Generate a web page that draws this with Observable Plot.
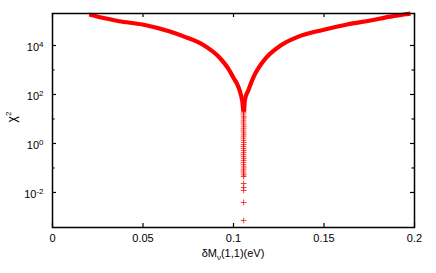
<!DOCTYPE html>
<html><head><meta charset="utf-8">
<script src="https://cdn.jsdelivr.net/npm/d3@7"></script>
<script src="https://cdn.jsdelivr.net/npm/@observablehq/plot@0.6"></script>
<style>html,body{margin:0;padding:0;background:#fff}svg{display:block}</style>
</head><body><div id="chart"></div>
<script>
// Left arm of the chi^2 curve
const leftX    = [0.0203, 0.0276, 0.0368, 0.0497, 0.0644, 0.0735, 0.0829, 0.0921, 0.0976, 0.1002, 0.1022, 0.1042, 0.1051, 0.1055];
const leftChi2 = [1.84e5, 1.35e5, 9.8e4,  7.2e4,  3.8e4,  2.2e4,  1.1e4,  3.3e3,  1000,   450,    250,    90,     40,     20];
// Right arm
const rightX    = [0.1057, 0.1063, 0.1082, 0.1110, 0.1167, 0.1260, 0.1352, 0.1499, 0.1628, 0.1757, 0.1867, 0.1941, 0.1978];
const rightChi2 = [20,     60,     150,    500,    2400,   1.0e4,  2.2e4,  4.4e4,  7.2e4,  1.05e5, 1.5e5,  1.84e5, 2.0e5];
// Points stacked at the minimum
const coreX    = [0.1056, 0.1055, 0.1056, 0.1057, 0.1056, 0.1055, 0.1056, 0.1057, 0.1056, 0.1055, 0.1056, 0.1057, 0.1056, 0.1055, 0.1056, 0.1057, 0.1056, 0.1055, 0.1056, 0.1057, 0.1056, 0.1055, 0.1056, 0.1057, 0.1056, 0.1055, 0.1056, 0.1057, 0.1056, 0.1055, 0.1056, 0.1057, 0.1056, 0.1055, 0.1056, 0.1057, 0.1056, 0.1056, 0.1056, 0.1056, 0.1056, 0.1056];
const coreChi2 = [40,     34,     28,     23,     19,     16,     13,     11,     9,      7.5,    6.2,    5.1,    4.2,    3.5,    2.9,    2.4,    2.0,    1.65,   1.35,   1.1,    0.9,    0.75,   0.62,   0.51,   0.42,   0.35,   0.29,   0.24,   0.2,    0.165,  0.135,  0.11,   0.09,   0.075,  0.062,  0.052,  0.045,  0.0233, 0.016,  0.0121, 0.0039, 0.00072];

const xTicks = [0, 0.05, 0.1, 0.15, 0.2];
const xTickLabels = ["0", "0.05", "0.1", "0.15", "0.2"];
const yTicks = [1e-2, 1, 1e2, 1e4];
const yTickExp = ["-2", "0", "2", "4"];
const yMinor = [1e-1, 1e1, 1e3];
const xLabelParts = ["δM", "ν", "(1,1)(eV)"];
const yLabelParts = ["χ", "2"];

const W = 436, H = 273, mL = 52, mR = 22, mT = 13, mB = 46;
const pw = W - mL - mR, ph = H - mT - mB;

const arms = [
  ...leftX.map((x, i) => ({x, y: leftChi2[i], s: "L"})),
  ...rightX.map((x, i) => ({x, y: rightChi2[i], s: "R"}))
];
const core = coreChi2.map((y, i) => ({x: coreX[i], y}));

const tickStyle = {stroke: "#000", strokeWidth: 1.2};
const plot = Plot.plot({
  width: W, height: H,
  marginLeft: mL, marginRight: mR, marginTop: mT, marginBottom: mB,
  style: {fontFamily: "'Liberation Sans', Arial, Helvetica, sans-serif", fontSize: "11px", color: "#000", background: "#fff"},
  x: {domain: [0, 0.2]},
  y: {type: "log", domain: [Math.pow(10, -3.43), Math.pow(10, 5.306)]},
  marks: [
    Plot.line(arms, {x: "x", y: "y", z: "s", stroke: "#ff0000", strokeWidth: 4.2, curve: "monotone-x", strokeLinecap: "butt"}),
    Plot.dot(core, {x: "x", y: "y", symbol: "plus", r: 2, stroke: "#ff0000", strokeWidth: 1, strokeOpacity: 0.75}),
    Plot.tickY(yTicks, {y: d => d, insetRight: pw - 4, ...tickStyle}),
    Plot.tickY(yTicks, {y: d => d, insetLeft: pw - 4, ...tickStyle}),
    Plot.tickY(yMinor, {y: d => d, insetRight: pw - 2.5, ...tickStyle}),
    Plot.tickY(yMinor, {y: d => d, insetLeft: pw - 2.5, ...tickStyle}),
    Plot.tickX(xTicks, {x: d => d, insetTop: ph - 4, ...tickStyle}),
    Plot.tickX(xTicks, {x: d => d, insetBottom: ph - 4, ...tickStyle}),
    Plot.frame({stroke: "#000", strokeWidth: 1.5}),
    Plot.axisX({ticks: xTicks, tickSize: 0, tickPadding: 7, label: null, fill: "#000", tickFormat: d => xTickLabels[xTicks.indexOf(d)]}),
    Plot.axisY({ticks: yTicks, tickSize: 0, tickPadding: 9, label: null, fill: "#000", tickFormat: () => "10", dy: 1.5})
  ]
});

const svg = d3.select(plot);
svg.selectAll('g[aria-label="y-axis tick label"] text').each(function(d, i) {
  d3.select(this).append("tspan").attr("dy", -4).attr("font-size", 8).text(yTickExp[i]);
});
const xl = svg.append("text").attr("x", mL + pw / 2).attr("y", 256.5).attr("text-anchor", "middle")
  .attr("font-size", 11).attr("fill", "#000");
xl.append("tspan").text(xLabelParts[0]);
xl.append("tspan").attr("dy", 3).attr("font-size", 8).text(xLabelParts[1]);
xl.append("tspan").attr("dy", -3).text(xLabelParts[2]);
const yl = svg.append("text").attr("transform", `translate(16,${mT + ph / 2 - 3}) rotate(-90)`)
  .attr("text-anchor", "middle").attr("font-size", 12).attr("fill", "#000");
yl.append("tspan").text(yLabelParts[0]);
yl.append("tspan").attr("dy", -5).attr("font-size", 8).text(yLabelParts[1]);

document.getElementById("chart").appendChild(plot);
</script>
</body></html>
